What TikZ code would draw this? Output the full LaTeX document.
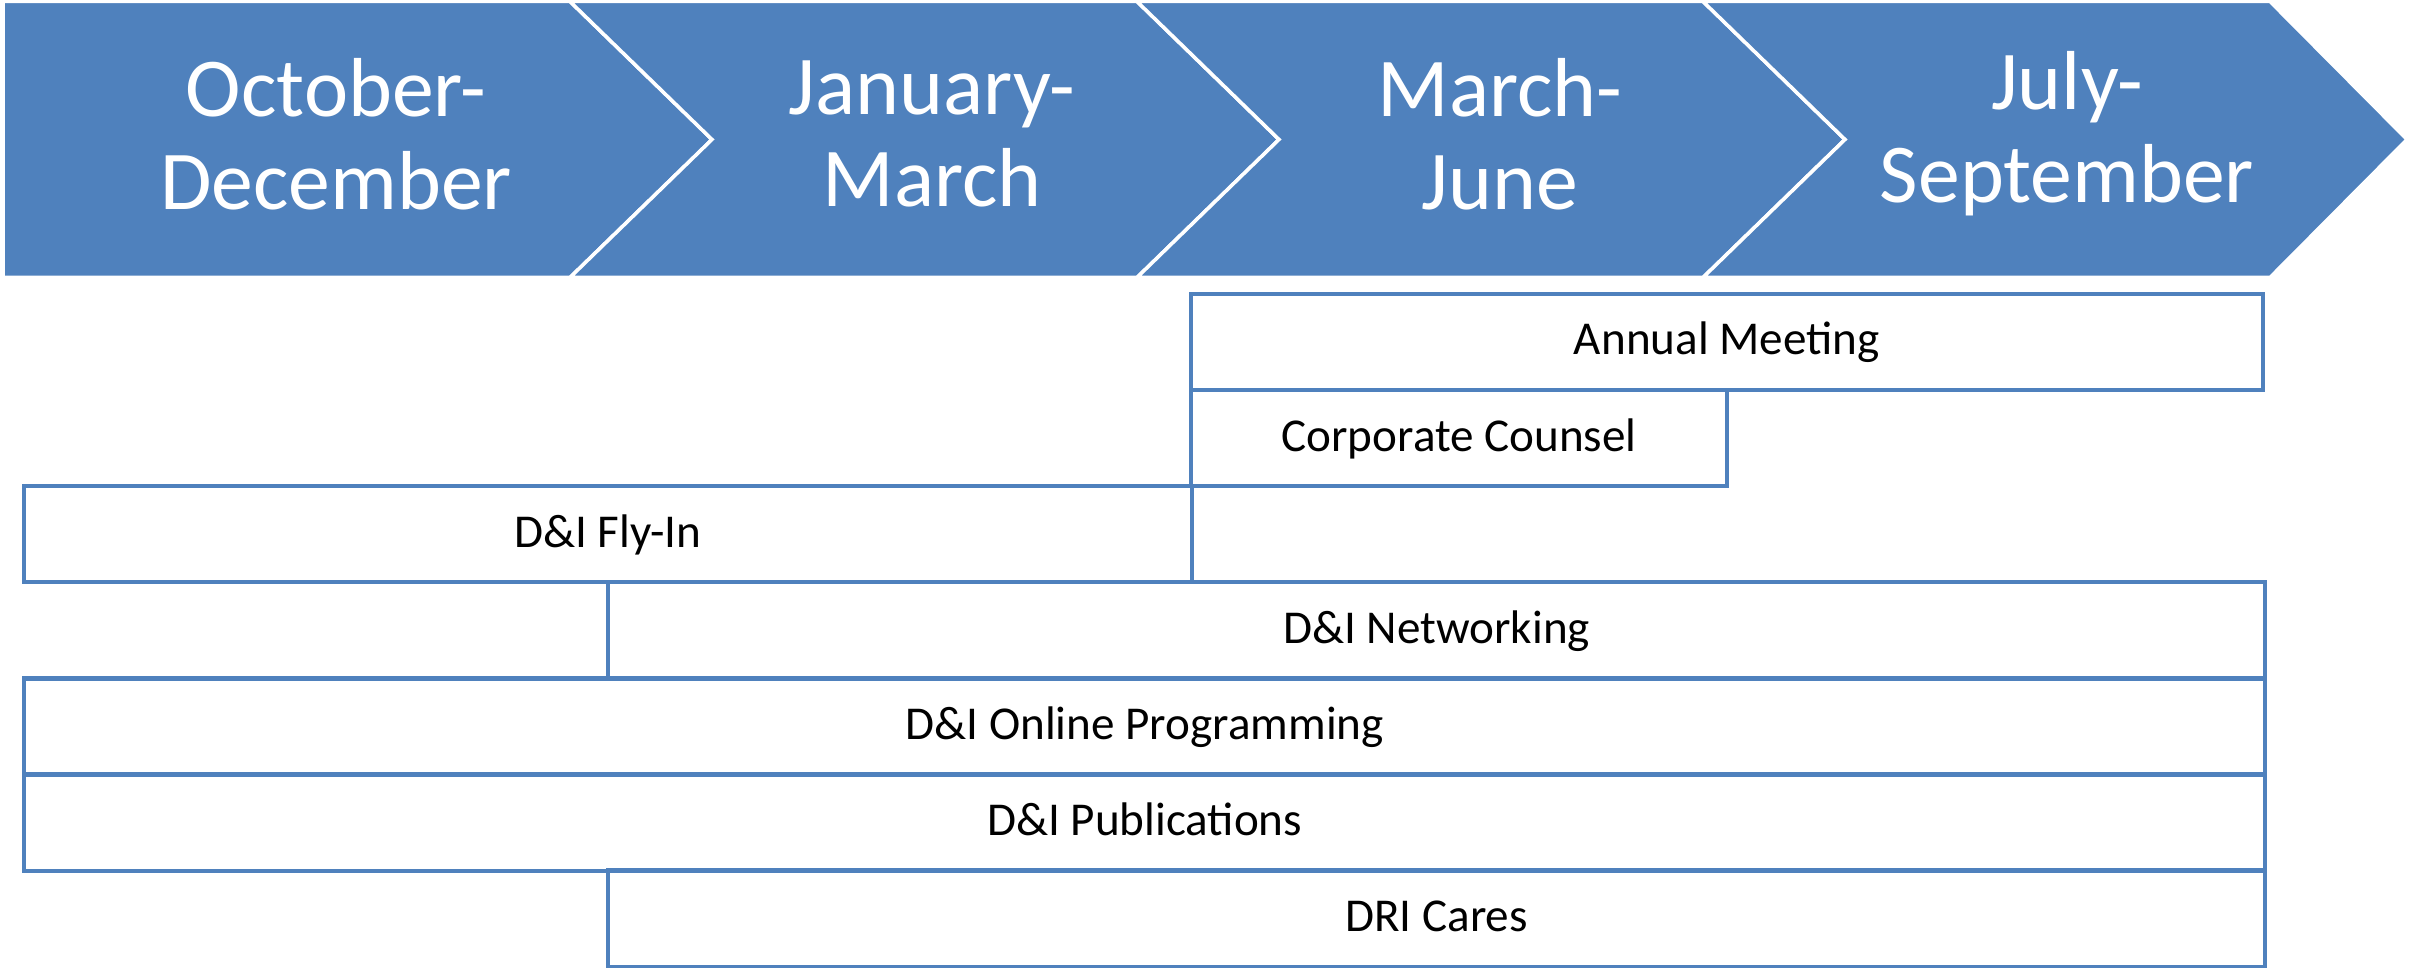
\documentclass[tikz,border=0pt]{standalone}
\usepackage{fontspec}
\setmainfont{Carlito}
\definecolor{accent}{HTML}{4F81BD}
\tikzset{
  chevron/.style={fill=accent, draw=white, line width=1pt},
  period/.style={text=white, align=center, inner sep=0pt, font=\fontsize{23.8}{26.4}\selectfont},
  bar/.style={draw=accent, line width=1.2pt, anchor=north west, inner sep=0pt, outer sep=0pt,
    minimum height=0.961cm, text height=0.95em, text depth=0.22em, font=\fontsize{13.4}{16}\selectfont},
}

\begin{document}
\begin{tikzpicture}[x=0.01cm, y=-0.01cm]
    \useasboundingbox (0,0) rectangle (2410,968);
    % quarters
    \draw[chevron] (3,1.5) -- (570,1.5) -- (712,139.5) -- (570,277.5) -- (3,277.5) -- cycle;
    \draw[chevron] (570,1.5) -- (1137,1.5) -- (1279,139.5) -- (1137,277.5) -- (570,277.5) -- (712,139.5) -- cycle;
    \draw[chevron] (1137,1.5) -- (1703,1.5) -- (1845,139.5) -- (1703,277.5) -- (1137,277.5) -- (1279,139.5) -- cycle;
    \draw[chevron] (1703,1.5) -- (2270,1.5) -- (2407,139.5) -- (2270,277.5) -- (1703,277.5) -- (1845,139.5) -- cycle;
    \node[period] at (336, 134) (oct) {October-\\December};
    \node[period] at (932, 134) (jan) {January-\\March};
    \node[period] at (1500, 134) (mar) {March-\\June};
    \node[period] at (2067, 134) (jul) {July-\\September};

    % events
    \node[bar, minimum width=10.71cm] at (1191, 294) (annual) {Annual Meeting};
    \node[bar, minimum width=5.36cm] at (1191, 390.1) (corp) {Corporate Counsel};
    \node[bar, minimum width=11.67cm] at (24, 486.2) (flyin) {D\&I Fly-In};
    \node[bar, minimum width=16.56cm] at (608, 582.3) (network) {D\&I Networking};
    \node[bar, minimum width=22.40cm] at (24, 678.4) (online) {D\&I Online Programming};
    \node[bar, minimum width=22.40cm] at (24, 774.5) (pubs) {D\&I Publications};
    \node[bar, minimum width=16.56cm] at (608, 870.6) (cares) {DRI Cares};
\end{tikzpicture}
\end{document}
